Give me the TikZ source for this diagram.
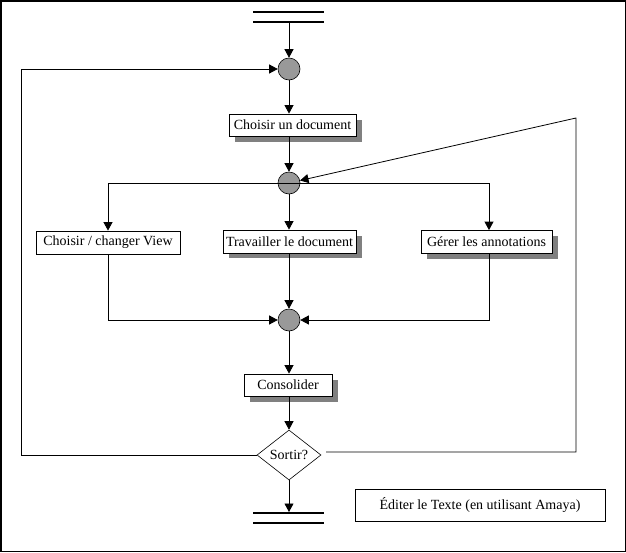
\documentclass[tikz,border=0pt]{standalone}
\usepackage{fontspec}
\setmainfont{Liberation Serif}
\usetikzlibrary{arrows.meta,shapes.geometric}
\begin{document}
\begin{tikzpicture}[x=1pt,y=-1pt,
  every node/.style={font=\fontsize{14}{16}\selectfont},
  arr/.style={-{Triangle[length=8.5pt,width=9pt]}, line width=0.8pt},
  ln/.style={line width=0.8pt},
  junc/.style={circle, draw, fill=black!40, minimum size=22pt, inner sep=0pt, line width=0.6pt},
  actbox/.style={draw, fill=white, rectangle, inner sep=0pt, line width=0.8pt},
  shad/.style={fill=black!50, draw=none}]
\useasboundingbox (0,0) rectangle (626,552);
\draw[line width=1.5pt] (0.75,0.75) rectangle (625.25,551.25);
% start bars
\draw[line width=2pt] (253,12) -- (324,12) (253,22) -- (324,22);
\coordinate (start) at (289,23);
\node[junc] (j1) at (289,69) {};
% Choisir un document
\fill[shad] (235,120) rectangle (362,142);
\node[actbox, minimum width=127pt, minimum height=22pt] (b1) at (292.5,125) {Choisir un document};
\node[junc] (j2) at (289,183) {};
% three boxes
\node[actbox, minimum width=144pt, minimum height=23pt] (b2) at (108,242.5) {Choisir / changer View};
\fill[shad] (229,236) rectangle (362,258);
\node[actbox, minimum width=133pt, minimum height=23pt] (b3) at (289.5,241.5) {Travailler le document};
\fill[shad] (427,236) rectangle (558,259);
\node[actbox, minimum width=131pt, minimum height=23pt] (b4) at (486.5,242) {Gérer les annotations};
\node[junc] (j3) at (289,320) {};
% Consolider
\fill[shad] (250,380) rectangle (338,402);
\node[actbox, minimum width=88pt, minimum height=22pt] (b5) at (288,385) {Consolider};
% diamond
\node[diamond, draw, fill=white, line width=0.6pt, minimum width=64pt, minimum height=50pt, inner sep=0pt, aspect=1.3] (d) at (289,455) {Sortir?};
% end bars
\draw[line width=2pt] (253,513) -- (324,513) (253,523) -- (324,523);
\coordinate (end) at (289,512);
% legend box
\node[actbox, minimum width=250pt, minimum height=32pt] (leg) at (480,505) {Éditer le Texte (en utilisant Amaya)};
% connectors
\draw[arr] (start) -- (j1);
\draw[arr] (j1) -- (b1.north -| j1);
\draw[arr] (b1.south -| j2) -- (j2);
\coordinate (jl) at (108,183);
\coordinate (jr) at (489,183);
\draw[ln] (jl) -- (jr);
\draw[arr] (jl) -- (b2.north);
\draw[arr] (j2) -- (b3.north -| j2);
\draw[arr] (jr) -- (b4.north -| jr);
\coordinate (ml) at (108,320);
\coordinate (mr) at (489,320);
\draw[arr] (b2.south) -- (ml) -- (j3);
\draw[arr] (b4.south -| mr) -- (mr) -- (j3);
\draw[arr] (b3.south -| j3) -- (j3);
\draw[arr] (j3) -- (b5.north -| j3);
\draw[arr] (b5.south -| d) -- (d.north);
\draw[arr] (d.south) -- (end);
% loops
\coordinate (ll1) at (21,455);
\coordinate (ll2) at (21,69);
\draw[arr] (d.west) -- (ll1) -- (ll2) -- (j1);
\coordinate (rl0) at (326,452);
\coordinate (rl1) at (576,452);
\coordinate (rl2) at (576,118);
\draw[arr] (rl0) -- (rl1) -- (rl2) -- (j2);
\end{tikzpicture}
\end{document}
